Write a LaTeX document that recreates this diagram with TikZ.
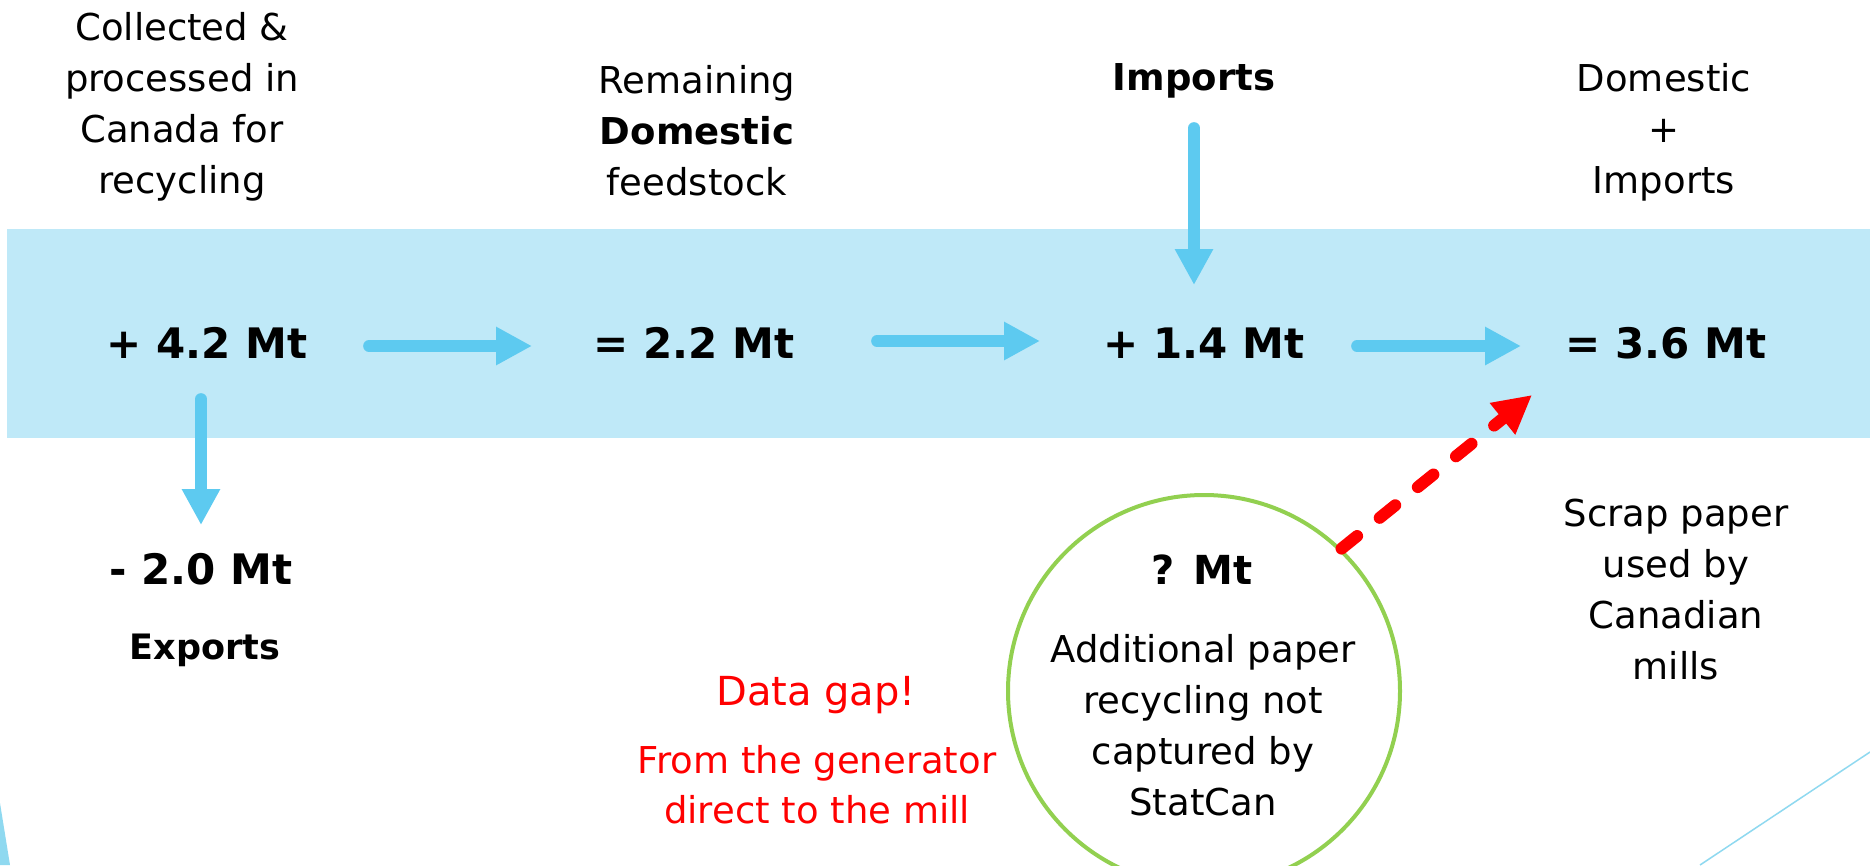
\documentclass[tikz,border=0pt]{standalone}
\usepackage{fontspec}
\setmainfont{DejaVu Sans}
\usetikzlibrary{arrows.meta}
\definecolor{bandblue}{RGB}{191,233,248}
\definecolor{arrowblue}{RGB}{93,202,240}
\definecolor{edgeblue}{RGB}{143,217,240}
\definecolor{circgreen}{RGB}{146,208,80}
\definecolor{gapred}{RGB}{255,0,0}
\tikzset{
  lbl/.style={inner sep=0pt, align=center, font=\fontsize{37}{51}\selectfont},
  num/.style={inner sep=0pt, font=\fontsize{42}{50}\selectfont\bfseries},
  redlbl/.style={inner sep=0pt, align=center, text=gapred, font=\fontsize{37}{50}\selectfont},
  flow/.style={draw=arrowblue, line width=11.7pt, line cap=round,
    -{Triangle[length=36pt, width=36pt]}},
  redflow/.style={draw=gapred, line width=12pt, line cap=round,
    dash pattern=on 20pt off 29pt,
    -{Triangle[length=38pt, width=38pt]}}
}
\begin{document}
\begin{tikzpicture}[x=1pt, y=-1pt]
\useasboundingbox (0,0) rectangle (1870,865);
\fill[white] (0,0) rectangle (1870,865);
% band
\fill[bandblue] (7,229) rectangle (1870,438);
% decorative edges
\fill[edgeblue] (0,803) -- (10,865) -- (0,865) -- cycle;
\draw[edgeblue, line width=1.5pt] (1700,865) -- (1870,752);

% top labels
\node[lbl] (coll) at (182,107) {Collected \&\\processed in\\Canada for\\recycling};
\node[lbl] (rem) at (697,131) {Remaining\\\textbf{Domestic}\\feedstock};
\node[lbl, font=\fontsize{37}{51}\selectfont\bfseries] (imp) at (1194,81) {Imports};
\node[lbl] (domimp) at (1664,132) {Domestic\\+\\Imports};

% numbers
\node[num] (p42) at (207,343) {+ 4.2 Mt};
\node[num] (e22) at (694,343) {= 2.2 Mt};
\node[num] (p14) at (1204,343) {+ 1.4 Mt};
\node[num] (e36) at (1666,343) {= 3.6 Mt};

\node[num] (m20) at (201,569) {- 2.0 Mt};
\node[lbl, font=\fontsize{35}{50}\selectfont\bfseries] (exp) at (205,650) {Exports};

% red labels
\node[redlbl, font=\fontsize{40}{50}\selectfont] (gap) at (816,695) {Data gap!};
\node[redlbl] (from) at (817,785) {From the generator\\direct to the mill};

% circle
\node[draw=circgreen, line width=4pt, circle, minimum size=392pt, inner sep=0pt] (circ) at (1204,691) {};
\node[num, font=\fontsize{40}{50}\selectfont\bfseries] (qmt) at (1202,570) {? Mt};
\node[lbl] (add) at (1203,725) {Additional paper\\recycling not\\captured by\\StatCan};

% right label
\node[lbl] (scrap) at (1676,590) {Scrap paper\\used by\\Canadian\\mills};

% blue arrows
\draw[flow, shorten <=162pt, shorten >=162pt] ([yshift=-3pt]p42.center) -- ([yshift=-3pt]e22.center);
\draw[flow, shorten <=183pt, shorten >=164pt] ([yshift=2pt]e22.center) -- ([yshift=2pt]p14.center);
\draw[flow, shorten <=153pt, shorten >=145pt] ([yshift=-3pt]p14.center) -- ([yshift=-3pt]e36.center);
\draw[flow, shorten <=47pt, shorten >=58pt] (imp.center) -- (imp.center |- p14.center);
\draw[flow, shorten <=56pt, shorten >=44pt] (p42.center -| m20.center) -- (m20.center);

% red dashed arrow
\coordinate (redtip) at (1532,395);
\draw[redflow] (circ.46) -- (redtip);
\end{tikzpicture}
\end{document}
